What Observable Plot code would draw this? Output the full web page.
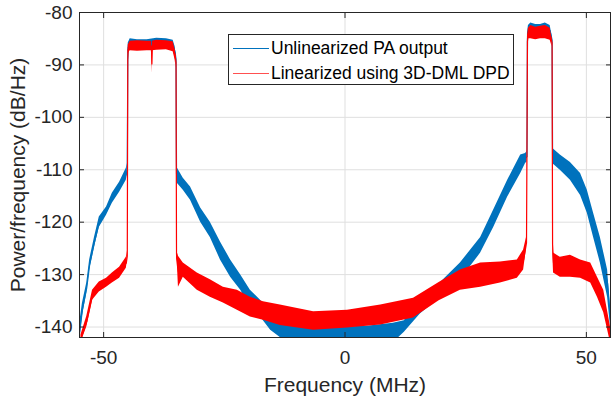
<!DOCTYPE html>
<html><head><meta charset="utf-8">
<script src="https://cdn.jsdelivr.net/npm/d3@7"></script>
<script src="https://cdn.jsdelivr.net/npm/@observablehq/plot@0.6"></script>
<style>
body{margin:0;background:#fff;font-family:"Liberation Sans",Arial,sans-serif;}
#wrap{position:relative;width:611px;height:402px;}
#legend{position:absolute;left:228px;top:34px;width:284px;height:49px;border:1px solid #262626;background:#fff;font-size:17.5px;color:#000;}
.row{position:absolute;left:0;height:20px;}
.sw{position:absolute;left:4px;width:36px;height:0;}
.lab{position:absolute;left:42px;top:-11px;white-space:nowrap;line-height:22px;}
</style></head>
<body><div id="wrap"></div>
<script>
// Axis ticks
const xTicks = [-50, 0, 50];
const yTicks = [-140, -130, -120, -110, -100, -90, -80];
const seriesNames = ["Unlinearized PA output", "Linearized using 3D-DML DPD"];
const seriesColors = ["#0072BD", "#FF0000"];

// Unlinearized PA output: frequency (MHz), lower / upper envelope of the noisy trace (dB/Hz)
const blueFreq = [-55, -54.4, -53.5, -52.9, -51.9, -50.9, -49.4, -48.2, -46.7, -45.3, -45.1,
  -45.0, -44.9, -44.5, -43, -41, -39, -37, -35.6, -35.2, -35.0,
  -34.9, -34.7, -33.5, -32, -29.9, -27.9, -25.8, -23.7, -21.6, -19.6, -17.5, -15.4, -12.7,
  -10, -5, 0, 5, 10, 12.3, 15.6, 19.5, 23.9, 28.1, 30.8, 33.7, 36.4, 37.4, 37.7,
  37.8, 38.0, 38.5, 39.5, 40.5, 41.5, 42.5, 42.9,
  43.0, 44.6, 46.7, 48.8, 50.2, 51.5, 52.9, 54.4, 55];
const blueLow = [-143, -138, -133.5, -129.1, -124.8, -121, -118.7, -116.4, -114.3, -112, -111,
  -90, -87.5, -87, -87.2, -87, -87, -86.8, -87.2, -88.5, -90,
  -112, -112.6, -113.9, -115.8, -120, -122.9, -127.2, -130.5, -133, -136.2, -138.1, -140.6, -142.5,
  -143, -143, -143, -143, -143, -141, -137.5, -134.5, -131, -125.9, -121, -115.2, -110.7, -108.8, -108.5,
  -86, -84.5, -84.3, -84.5, -84.3, -84, -84.5, -86,
  -108.8, -110.1, -112, -114.9, -118.3, -122.9, -127.8, -134.3, -140];
const blueHigh = [-139.5, -135.5, -131.6, -127.2, -122.9, -119, -117.1, -114.5, -112.4, -109.7, -108.8,
  -88, -85.8, -85, -85.2, -85.2, -84.9, -85, -85.3, -86.5, -88,
  -109.5, -109.7, -111.6, -113.3, -117.3, -120, -123.8, -127.2, -130.1, -133, -134.9, -137.3, -138.7,
  -139.5, -140, -140, -139.8, -139.3, -138.8, -134.5, -131.8, -127.8, -122.9, -117.7, -112, -107.2, -106.9, -106.5,
  -84, -82.5, -82, -82.3, -82.3, -82, -82.5, -84.5,
  -105.9, -107.2, -108.6, -110.7, -113.9, -118.3, -122.9, -129.1, -136.8];

// Linearized using 3D-DML DPD
const redFreq = [-54.7, -53.5, -52.3, -50.9, -49.4, -48.2, -46.7, -45.3, -45.1,
  -45.0, -44.9, -44.5, -43, -41, -40.1, -40.0, -39.9, -39, -37, -35.6, -35.2, -35.0,
  -34.9, -34.7, -34.5, -33.5, -30.6, -27.9, -25.2, -22.3, -19.6, -16.9, -13.4, -6.5, 0.5, 7.4, 14.2,
  19.5, 23.9, 28.1, 32.2, 35.7, 37.0, 37.6,
  37.8, 38.0, 38.5, 39.5, 40.5, 41.5, 42.5, 42.9,
  43.0, 43.2, 44.6, 46.7, 48.8, 50.9, 52.3, 53.6, 55];
const redLow = [-143, -140, -134.9, -133.3, -132.4, -131.6, -130.7, -128.8, -127.5,
  -90, -87.8, -87.3, -87.4, -87.3, -87.3, -91.6, -87.3, -87.2, -87.1, -87.5, -89, -90.5,
  -127, -128.6, -132.4, -130.5, -133, -134.3, -135.4, -136.8, -138.1, -138.7, -139.7, -140.6, -140.2, -139.6, -138.3,
  -135, -133, -132.4, -131.6, -130.7, -129.1, -125,
  -86.5, -85, -85, -85.2, -85, -85, -85.3, -86.5,
  -125, -129.7, -130.5, -130.5, -130.7, -131.6, -134.3, -137.3, -143];
const redHigh = [-141.5, -138, -133, -131.4, -130.7, -129.7, -128.6, -126.7, -125.5,
  -88, -86.2, -85.5, -85.4, -85.5, -85.5, -88, -85.5, -85.3, -85.4, -85.6, -87, -88.5,
  -125.3, -125.9, -126.5, -127.8, -129.7, -131, -132.4, -133, -134.3, -135.2, -135.8, -137.1, -136.8, -135.8, -134.5,
  -131.5, -129.1, -127.8, -127.6, -127.2, -125.3, -122.9,
  -84.5, -83, -82.5, -82.8, -82.6, -82.5, -83, -85,
  -123.4, -125.9, -126.7, -126.3, -127.2, -127.8, -130.5, -133, -140];

const rows = (fr, lo, hi) => fr.map((f, i) => ({f, lo: lo[i], hi: hi[i], mid: (lo[i] + hi[i]) / 2}));
const blue = rows(blueFreq, blueLow, blueHigh);
const red = rows(redFreq, redLow, redHigh);

const ink = "#262626";
const font = "'Liberation Sans', Arial, sans-serif";
const fmt = d => String(d);

const chart = Plot.plot({
  width: 611, height: 402,
  marginLeft: 79, marginRight: 1, marginTop: 12, marginBottom: 65,
  style: {fontFamily: font, background: "#fff"},
  x: {domain: [-55, 55]},
  y: {domain: [-142, -80]},
  marks: [
    Plot.gridX(xTicks, {stroke: "#dfdfdf", strokeOpacity: 1}),
    Plot.gridY(yTicks, {stroke: "#dfdfdf", strokeOpacity: 1}),
    Plot.areaY(blue, {x: "f", y1: "lo", y2: "hi", fill: seriesColors[0], clip: true}),
    Plot.line(blue, {x: "f", y: "mid", stroke: seriesColors[0], strokeWidth: 1.2, clip: true}),
    Plot.areaY(red, {x: "f", y1: "lo", y2: "hi", fill: seriesColors[1], clip: true}),
    Plot.line(red, {x: "f", y: "mid", stroke: seriesColors[1], strokeWidth: 1.2, clip: true}),
    Plot.frame({stroke: ink}),
    Plot.axisX(xTicks, {anchor: "bottom", tickSize: 0, tickPadding: 13, fontSize: 19, color: ink, label: null, tickFormat: fmt}),
    Plot.axisY(yTicks, {anchor: "left", tickSize: 0, tickPadding: 7, fontSize: 19, color: ink, label: null, tickFormat: fmt}),
    Plot.axisX(xTicks, {anchor: "bottom", tickSize: -5, tickFormat: () => "", color: ink, label: null}),
    Plot.axisX(xTicks, {anchor: "top", tickSize: -5, tickFormat: () => "", color: ink, label: null}),
    Plot.axisY(yTicks, {anchor: "left", tickSize: -5, tickFormat: () => "", color: ink, label: null}),
    Plot.axisY(yTicks, {anchor: "right", tickSize: -5, tickFormat: () => "", color: ink, label: null}),
    Plot.text(["Frequency (MHz)"], {frameAnchor: "bottom", dy: 54, lineAnchor: "bottom", fontSize: 21, fill: ink, text: d => d}),
    Plot.text(["Power/frequency (dB/Hz)"], {frameAnchor: "left", dx: -69, rotate: -90, textAnchor: "middle", lineAnchor: "top", fontSize: 21, fill: ink, text: d => d})
  ]
});

const wrap = document.getElementById("wrap");
wrap.appendChild(chart);

const legend = document.createElement("div");
legend.id = "legend";
seriesNames.forEach((name, i) => {
  const row = document.createElement("div");
  row.className = "row";
  row.style.top = (i === 0 ? 13 : 38) + "px";
  const sw = document.createElement("div");
  sw.className = "sw";
  sw.style.borderTop = "1.5px solid " + (i === 0 ? seriesColors[0] : "#FF5050");
  const lab = document.createElement("div");
  lab.className = "lab";
  lab.textContent = name;
  row.appendChild(sw); row.appendChild(lab);
  legend.appendChild(row);
});
wrap.appendChild(legend);
</script></body></html>
